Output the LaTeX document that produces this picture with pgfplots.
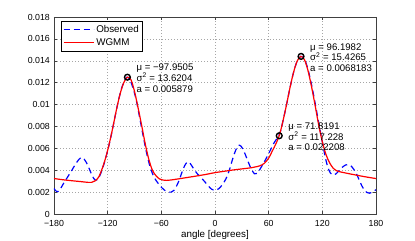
\documentclass[border=0pt]{standalone}
\usepackage{fontspec}
\setmainfont{Liberation Sans}
\usepackage{pgfplots}
\pgfplotsset{compat=1.18}
\usepackage{pgfplotstable}

\pgfplotstableread{
x y
-180 0.00233
-177 0.00205
-174 0.00215
-170 0.00270
-165 0.00335
-160 0.00400
-156 0.00455
-152 0.00500
-149 0.00516
-146 0.00498
-143 0.00458
-140 0.00402
-137 0.00345
-134 0.00310
-131 0.00318
-128 0.00365
-124 0.00460
-120 0.00580
-116 0.00720
-112 0.00880
-108 0.01035
-104 0.01160
-100 0.01235
-98 0.01250
-95 0.01225
-92 0.01160
-88 0.01040
-84 0.00870
-80 0.00700
-76 0.00540
-72 0.00415
-68 0.00335
-64 0.00285
-60 0.00245
-56 0.00215
-52 0.00200
-49 0.00200
-46 0.00215
-43 0.00255
-40 0.00310
-37 0.00380
-34 0.00440
-31 0.00475
-28 0.00465
-24 0.00415
-20 0.00370
-16 0.00335
-12 0.00300
-8 0.00262
-4 0.00228
0 0.00217
4 0.00230
8 0.00265
12 0.00318
16 0.00400
20 0.00510
23 0.00580
26 0.00628
29 0.00620
32 0.00580
36 0.00500
40 0.00420
44 0.00368
47 0.00370
50 0.00405
54 0.00460
58 0.00520
62 0.00585
66 0.00650
70 0.00700
73 0.00750
76 0.00850
80 0.01000
84 0.01160
88 0.01300
92 0.01400
96 0.01440
100 0.01415
104 0.01320
108 0.01180
112 0.01010
116 0.00830
120 0.00660
123 0.00530
126 0.00430
129 0.00375
132 0.00355
135 0.00365
138 0.00390
142 0.00425
146 0.00448
149 0.00452
152 0.00440
155 0.00410
158 0.00370
161 0.00315
164 0.00260
167 0.00220
170 0.00196
173 0.00190
176 0.00200
180 0.00222
}\observed

\pgfplotstableread{
x y
-180 0.00324
-170 0.00313
-160 0.00304
-150 0.00296
-142 0.00289
-138 0.00289
-134 0.00303
-130 0.00338
-126 0.00418
-122 0.00520
-118 0.00650
-114 0.00800
-110 0.00960
-106 0.01100
-102 0.01200
-98 0.01250
-94 0.01228
-90 0.01120
-86 0.00970
-82 0.00810
-78 0.00640
-74 0.00500
-70 0.00400
-66 0.00350
-62 0.00320
-58 0.00310
-54 0.00307
-50 0.00310
-40 0.00322
-30 0.00335
-20 0.00348
-10 0.00362
0 0.00378
10 0.00390
20 0.00402
30 0.00412
40 0.00422
45 0.00430
50 0.00440
55 0.00462
60 0.00510
64 0.00575
68 0.00640
72 0.00720
76 0.00850
80 0.01000
84 0.01160
88 0.01300
92 0.01400
96 0.01440
100 0.01410
104 0.01310
108 0.01160
112 0.00990
116 0.00810
120 0.00660
124 0.00545
128 0.00470
132 0.00420
136 0.00395
140 0.00385
150 0.00368
160 0.00352
170 0.00337
180 0.00324
}\wgmm

\begin{document}
\begin{tikzpicture}
\begin{axis}[
  at={(0,0)}, anchor=south west,
  width=322bp, height=197bp, scale only axis,
  xmin=-180, xmax=180, ymin=0, ymax=0.018,
  xtick={-180,-120,-60,0,60,120,180},
  xticklabels={−180,−120,−60,0,60,120,180},
  ytick={0,0.002,0.004,0.006,0.008,0.010,0.012,0.014,0.016,0.018},
  yticklabels={0,0.002,0.004,0.006,0.008,0.01,0.012,0.014,0.016,0.018},
  scaled y ticks=false,
  tick align=inside,
  major tick length=3bp,
  grid=major,
  grid style={gray!70, line width=0.4bp, dash pattern=on 1bp off 2bp},
  axis line style={black!75, line width=0.6bp},
  tick style={black!75, line width=0.5bp},
  ticklabel style={font=\fontsize{8.8bp}{10bp}\selectfont, inner sep=0.5bp},
  yticklabel style={xshift=-3.5bp},
  xticklabel style={yshift=-5.5bp},
  xlabel={angle [degrees]},
  label style={font=\fontsize{9.8bp}{11bp}\selectfont},
  xlabel style={yshift=0bp},
  legend style={at={(0.021,0.981)}, anchor=north west, draw=black, line width=0.6bp,
    font=\fontsize{9.8bp}{11bp}\selectfont, inner xsep=2bp, inner ysep=2bp, row sep=1bp},
  legend cell align=left,
  legend image code/.code={\draw[#1] (0bp,0bp) -- (30bp,0bp);},
]
\addplot[blue, line width=1.2bp, dash pattern=on 6bp off 4bp, smooth, tension=0.5] table[x=x,y=y] {\observed};
\addlegendentry{Observed}
\addplot[red, line width=1.2bp, smooth, tension=0.5] table[x=x,y=y] {\wgmm};
\addlegendentry{WGMM}
\addplot[only marks, mark=o, mark size=2.9bp, line width=1.4bp, black, forget plot]
  coordinates {(-97.9505,0.0125) (96.1982,0.0144) (71.8191,0.00715)};
\node[anchor=west, align=left, inner sep=0pt, xshift=9bp, yshift=-1bp,
  font=\fontsize{9.6bp}{10.6bp}\selectfont] at (axis cs:-97.9505,0.0125)
  {μ = −97.9505\\σ\textsuperscript{2} = 13.6204\\a = 0.005879};
\node[anchor=west, align=left, inner sep=0pt, xshift=9bp, yshift=-1bp,
  font=\fontsize{9.6bp}{10.6bp}\selectfont] at (axis cs:96.1982,0.0144)
  {μ = 96.1982\\σ\textsuperscript{2} = 15.4265\\a = 0.0068183};
\node[anchor=west, align=left, inner sep=0pt, xshift=9bp, yshift=-1bp,
  font=\fontsize{9.6bp}{10.6bp}\selectfont] at (axis cs:71.8191,0.00715)
  {μ = 71.8191\\σ\textsuperscript{2} = 117.228\\a = 0.022208};
\end{axis}
\pgfresetboundingbox
\path[use as bounding box] (-54bp,-27bp) rectangle (361bp,214bp);
\end{tikzpicture}
\end{document}
